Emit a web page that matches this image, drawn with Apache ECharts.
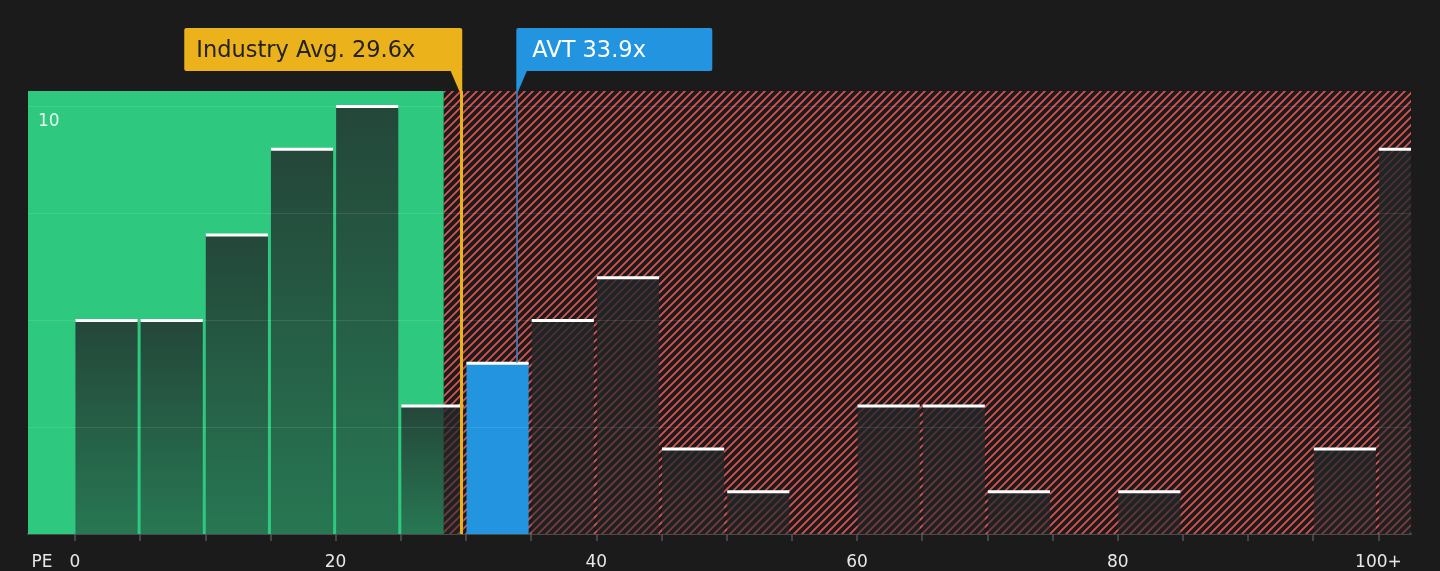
<!DOCTYPE html>
<html>
<head>
<meta charset="utf-8">
<script src="https://cdn.jsdelivr.net/npm/echarts@6/dist/echarts.min.js"></script>
<style>
  html, body { margin: 0; padding: 0; background: #1b1b1b; }
  #main { width: 1440px; height: 571px; }
</style>
</head>
<body>
<div id="main"></div>
<script>
// PE ratio histogram, bins of width 5 (last bin is 100+)
const binWidth = 5;
const binStarts = [0, 5, 10, 15, 20, 25, 30, 35, 40, 45, 50, 55, 60, 65, 70, 75, 80, 85, 90, 95, 100];
const companyCounts = [5, 5, 7, 9, 10, 3, 4, 5, 6, 2, 1, 0, 3, 3, 1, 0, 1, 0, 0, 2, 9];
const xTickValues = [0, 5, 10, 15, 20, 25, 30, 35, 40, 45, 50, 55, 60, 65, 70, 75, 80, 85, 90, 95, 100];
const xLabelValues = [0, 20, 40, 60, 80, 100];
const yLabelValues = [10];

const industryAvg = 29.6;
const companyName = "AVT";
const companyPE = 33.9;
const fairRangeEnd = 28.3;

const xMin = -3.6;
const xMax = 102.5;
const yMax = 10.35;

const font = "DejaVu Sans";
const yellow = "#ecb21b";
const blue = "#2394e0";

// diagonal red stripes for the "expensive" zone
function makeHatch() {
  const c = document.createElement("canvas");
  c.width = 8;
  c.height = 8;
  const ctx = c.getContext("2d");
  ctx.fillStyle = "#1b1b1b";
  ctx.fillRect(0, 0, 8, 8);
  ctx.strokeStyle = "#dc5252";
  ctx.lineWidth = 1.8;
  ctx.beginPath();
  ctx.moveTo(-2, 10); ctx.lineTo(10, -2);
  ctx.moveTo(-6, 6); ctx.lineTo(6, -6);
  ctx.moveTo(2, 14); ctx.lineTo(14, 2);
  ctx.stroke();
  return c;
}

const barData = binStarts.map((s, i) => [s, companyCounts[i]]);

var myChart = echarts.init(document.getElementById("main"));

var option = {
  backgroundColor: "#1b1b1b",
  animation: false,
  grid: { left: 28, right: 29, top: 91, bottom: 37, outerBoundsMode: "none" },
  xAxis: {
    type: "value",
    min: xMin,
    max: xMax,
    splitLine: { show: false },
    axisLine: { lineStyle: { color: "#4a4a4a", width: 2 } },
    axisTick: { show: true, customValues: xTickValues, length: 7, lineStyle: { color: "#555", width: 1.5 } },
    axisLabel: {
      customValues: xLabelValues,
      margin: 20,
      color: "#e8e8e8",
      fontFamily: font,
      fontSize: 17,
      formatter: (v) => (v === 100 ? "100+" : String(v)),
    },
  },
  yAxis: {
    type: "value",
    min: 0,
    max: yMax,
    interval: 2.5,
    z: 10,
    axisLine: { show: false },
    axisTick: { show: false },
    splitLine: { showMinLine: false, showMaxLine: false, lineStyle: { color: "rgba(255,255,255,0.1)", width: 1 } },
    axisLabel: {
      inside: true,
      customValues: yLabelValues,
      margin: 10,
      verticalAlign: "top",
      padding: [7, 0, 0, 0],
      color: "rgba(255,255,255,0.88)",
      fontFamily: font,
      fontSize: 17,
    },
  },
  series: [
    {
      // background zones
      type: "line",
      data: [],
      z: 1,
      silent: true,
      markArea: {
        silent: true,
        data: [
          [{ xAxis: xMin, itemStyle: { color: "#2ec97e" } }, { xAxis: fairRangeEnd }],
          [{ xAxis: fairRangeEnd, itemStyle: { color: { image: makeHatch(), repeat: "repeat" } } }, { xAxis: xMax }],
        ],
      },
    },
    {
      type: "custom",
      z: 3,
      silent: true,
      data: barData,
      renderItem: function (params, api) {
        const start = api.value(0);
        const count = api.value(1);
        if (!count) return null;
        const base = api.coord([start, 0]);
        const top = api.coord([start + binWidth, count]);
        const cs = params.coordSys;
        const x0 = base[0] + 0.5;
        const x1 = Math.min(top[0] - 2.5, cs.x + cs.width);
        const isCompany = companyPE >= start && companyPE < start + binWidth;
        const fill = isCompany
          ? blue
          : new echarts.graphic.LinearGradient(0, 0, 0, 1, [
              { offset: 0, color: "rgba(33,38,40,0.8)" },
              { offset: 1, color: "rgba(33,38,40,0.5)" },
            ]);
        return {
          type: "group",
          children: [
            { type: "rect", shape: { x: x0, y: top[1], width: x1 - x0, height: base[1] - top[1] }, style: { fill: fill } },
            { type: "rect", shape: { x: x0, y: top[1] - 1, width: x1 - x0, height: 3 }, style: { fill: "#ffffff" } },
          ],
        };
      },
    },
    {
      type: "line",
      data: [],
      z: 4,
      silent: true,
      markLine: {
        silent: true,
        symbol: "none",
        label: { show: false },
        data: [
          [{ coord: [industryAvg, 0], lineStyle: { color: yellow, width: 3, type: "solid" } }, { coord: [industryAvg, yMax] }],
          [{ coord: [companyPE, companyCounts[6]], lineStyle: { color: "#3d86c8", width: 1.5, type: "solid" } }, { coord: [companyPE, yMax] }],
        ],
      },
    },
  ],
};

myChart.setOption(option);

// callout boxes above the plot, anchored to the marker lines
const avgX = myChart.convertToPixel({ xAxisIndex: 0 }, industryAvg);
const peX = myChart.convertToPixel({ xAxisIndex: 0 }, companyPE);
const boxTop = 28, boxBottom = 71, plotTop = 91;
const avgRight = avgX + 1.5;
const peLeft = peX - 0.5;
const textY = 51;

myChart.setOption({
  graphic: [
    { type: "rect", shape: { x: avgRight - 278, y: boxTop, width: 278, height: boxBottom - boxTop, r: 2 }, style: { fill: yellow } },
    { type: "polygon", shape: { points: [[avgRight - 12, boxBottom - 1], [avgRight, boxBottom - 1], [avgRight, plotTop], [avgRight - 3, plotTop]] }, style: { fill: yellow } },
    { type: "text", x: avgRight - 266, y: textY, style: { text: "Industry Avg. " + industryAvg + "x", fill: "#222222", font: "22.5px " + font, verticalAlign: "middle", align: "left" } },
    { type: "rect", shape: { x: peLeft, y: boxTop, width: 196, height: boxBottom - boxTop, r: 2 }, style: { fill: blue } },
    { type: "polygon", shape: { points: [[peLeft, boxBottom - 1], [peLeft + 11, boxBottom - 1], [peLeft + 2, plotTop], [peLeft, plotTop]] }, style: { fill: blue } },
    { type: "text", x: peLeft + 16, y: textY, style: { text: companyName + " " + companyPE + "x", fill: "#ffffff", font: "22.5px " + font, verticalAlign: "middle", align: "left" } },
    { type: "text", x: 48, y: 520, rotation: Math.PI / 2, style: { text: "No. of Companies", fill: "rgba(255,255,255,0.85)", font: "18px " + font, verticalAlign: "middle", align: "left" } },
    { type: "text", x: 42, y: 563, style: { text: "PE", fill: "#e8e8e8", font: "17px " + font, verticalAlign: "middle", align: "center" } },
  ],
});
</script>
</body>
</html>
